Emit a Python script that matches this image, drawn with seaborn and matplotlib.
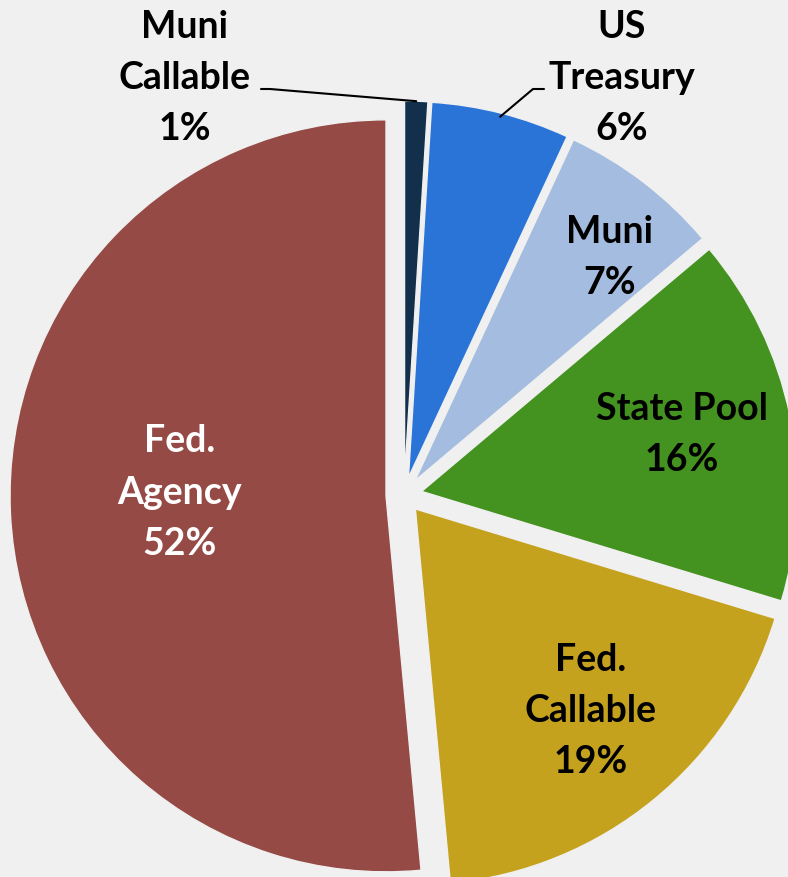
import numpy as np
import seaborn as sns
from matplotlib import pyplot as plt

# portfolio mix, clockwise from 12 o'clock
categories = ["Muni\nCallable", "US\nTreasury", "Muni", "State Pool", "Fed.\nCallable", "Fed.\nAgency"]
shares = [1, 6, 7, 16, 19, 52]
slice_colors = ["#12304b", "#2a74d8", "#a4bcdf", "#44921f", "#c4a21e", "#954a45"]
label_colors = ["black", "black", "black", "black", "black", "white"]

bg = "#f0f0f0"
sns.set_theme(style="white", rc={"figure.facecolor": bg, "axes.facecolor": bg})
plt.rcParams["font.family"] = ["Lato", "DejaVu Sans"]

FS = 27
LS = 1.62

fig = plt.figure(figsize=(7.88, 8.78), dpi=100)
ax = fig.add_axes([0, 0, 1, 1])

# work in pixel units so the cut-off edges match
wedges, _ = ax.pie(shares, startangle=90, counterclock=False, colors=slice_colors,
                   radius=376, center=(404, 382), explode=[18] * len(shares),
                   wedgeprops=dict(edgecolor=bg, linewidth=1))
ax.set_xlim(0, 788)
ax.set_ylim(0, 878)
ax.set_aspect("equal")
ax.axis("off")

# inside labels: (fraction of radius, angle tweak in degrees) from the slice middle
inside = {2: (0.79, -3.5), 3: (0.71, 1.0), 4: (0.71, 1.9), 5: (0.55, -3.8)}
for i, w in enumerate(wedges):
    if i not in inside:
        continue
    f, tweak = inside[i]
    mid = np.deg2rad((w.theta1 + w.theta2) / 2 + tweak)
    cx, cy = w.center
    ax.text(cx + f * w.r * np.cos(mid), cy + f * w.r * np.sin(mid),
            f"{categories[i]}\n{shares[i]}%",
            ha="center", va="center", fontsize=FS, fontweight="bold",
            color=label_colors[i], linespacing=LS)


# callout labels with leader lines
def edge_point(w, k=1.0):
    mid = np.deg2rad((w.theta1 + w.theta2) / 2)
    cx, cy = w.center
    return cx + k * w.r * np.cos(mid), cy + k * w.r * np.sin(mid)


ax.text(185, 878 - 78, f"{categories[0]}\n{shares[0]}%", ha="center", va="center",
        fontsize=FS, fontweight="bold", color="black", linespacing=LS)
px, py = edge_point(wedges[0])
ax.plot([261, 270, px], [878 - 90, 878 - 90, py], color="black", lw=1.5)

ax.text(622, 878 - 78, f"{categories[1]}\n{shares[1]}%", ha="center", va="center",
        fontsize=FS, fontweight="bold", color="black", linespacing=LS)
px, py = edge_point(wedges[1], 0.99)
ax.plot([544, 533, px], [878 - 90, 878 - 90, py], color="black", lw=1.5)

fig.savefig("out.png", dpi=100, facecolor=bg)
